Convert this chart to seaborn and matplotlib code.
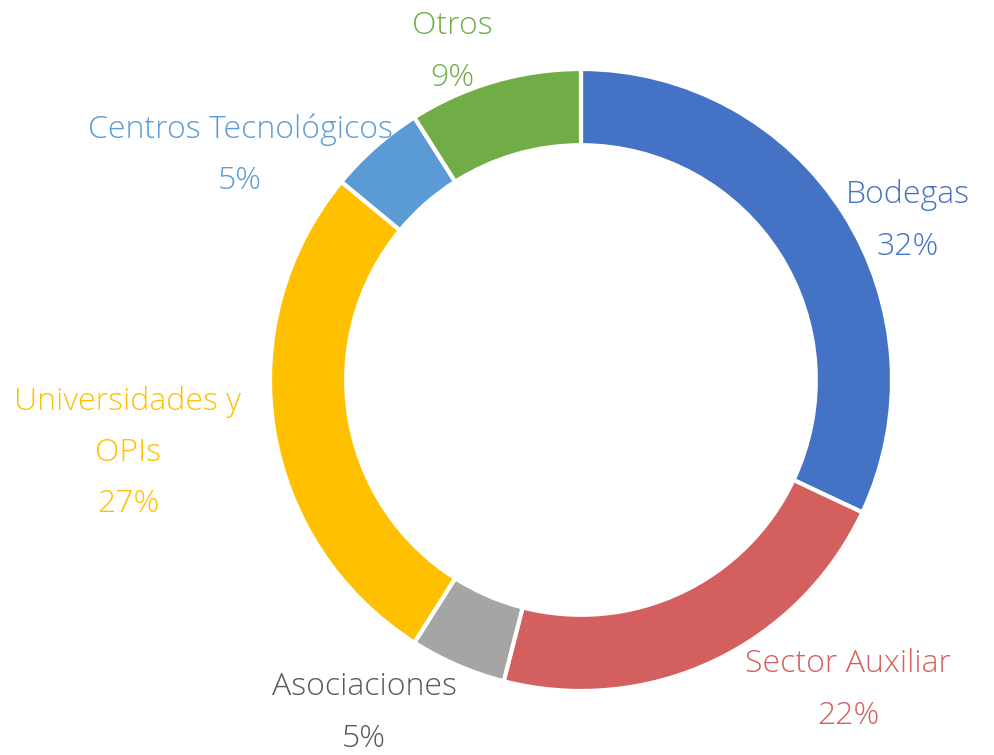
import matplotlib
matplotlib.use("Agg")
import matplotlib.pyplot as plt
import seaborn as sns

categories = ["Bodegas", "Sector Auxiliar", "Asociaciones", "Universidades y\nOPIs",
              "Centros Tecnológicos", "Otros"]
values = [32, 22, 5, 27, 5, 9]
colors = ["#4472C4", "#D45F5F", "#A5A5A5", "#FFC000", "#5B9BD5", "#70AD47"]
label_colors = ["#4472C4", "#D45F5F", "#595959", "#FFC000", "#5B9BD5", "#70AD47"]

# label centres in pixels of the 994x755 canvas (layout only)
label_px = [(908, 221), (848, 690), (364, 713), (128, 453), (240, 155), (452, 52)]

sns.set_theme(style="white")
plt.rcParams["font.family"] = ["Open Sans", "DejaVu Sans"]

W, H = 994, 755
cx, cy, R = 581, 380, 311
fig = plt.figure(figsize=(W / 100, H / 100), dpi=100)
ax = fig.add_axes([0, 0, 1, 1])
ax.axis("off")

ax.pie(values, colors=colors, startangle=90, counterclock=False, radius=1.0,
       wedgeprops=dict(width=0.245, edgecolor="white", linewidth=3))
ax.set_xlim(-cx / R, (W - cx) / R)
ax.set_ylim(-(H - cy) / R, cy / R)
ax.set_aspect("auto")

total = sum(values)
for cat, v, col, (px, py) in zip(categories, values, label_colors, label_px):
    ax.text((px - cx) / R, (cy - py) / R, f"{cat}\n{round(100 * v / total)}%",
            ha="center", va="center", multialignment="center", color=col,
            fontsize=23, fontweight="light", linespacing=1.8)

fig.savefig("out.png", dpi=100)
